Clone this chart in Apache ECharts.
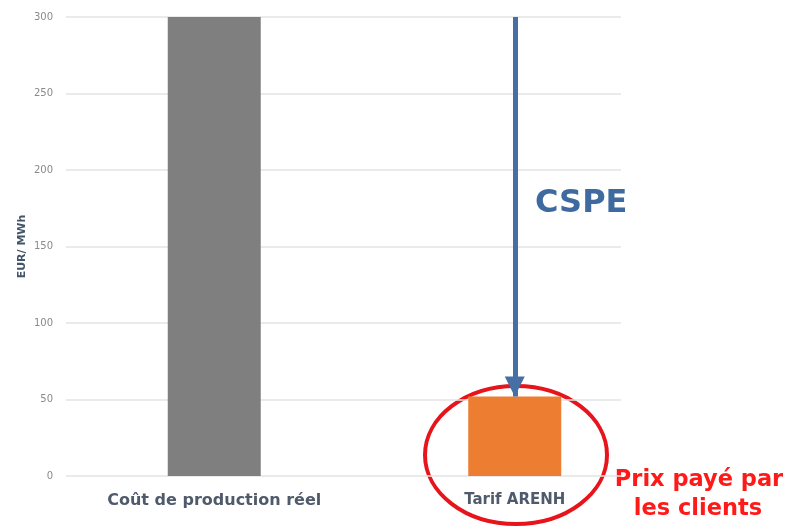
<!DOCTYPE html>
<html>
<head>
<meta charset="utf-8">
<script src="https://cdn.jsdelivr.net/npm/echarts@6/dist/echarts.min.js"></script>
<style>
  html, body { margin: 0; padding: 0; background: #ffffff; }
  #chart { width: 792px; height: 526px; }
</style>
</head>
<body>
<div id="chart"></div>
<script>
// Cost per MWh: real production cost vs. the regulated ARENH tariff
const categories = ['Coût de production réel', 'Tarif ARENH'];
const values = [300, 52];
const barColors = ['#7f7f7f', '#ed7d31'];
const yTicks = { min: 0, max: 300, interval: 50 };
const cspeArrow = { from: 300, to: 52 };

const chart = echarts.init(document.getElementById('chart'));

chart.setOption({
  backgroundColor: '#ffffff',
  animation: false,
  grid: [
    // background grid carrying the value axis and gridlines
    { left: 66, right: 171, top: 17, bottom: 50 },
    // plot grid carrying the bars
    { left: 64, right: 127, top: 17, bottom: 50 }
  ],
  xAxis: [
    { gridIndex: 0, type: 'category', data: categories, show: false },
    {
      gridIndex: 1, type: 'category', data: categories,
      axisLine: { show: false }, axisTick: { show: false },
      axisLabel: {
        margin: 17,
        formatter: (v, i) => i === 0 ? '{a|' + v + '}' : '{b|' + v + '}',
        rich: {
          a: { fontFamily: 'DejaVu Sans', fontWeight: 'bold', fontSize: 16, color: '#4f5a6b' },
          b: { fontFamily: 'DejaVu Sans', fontWeight: 'bold', fontSize: 15, color: '#4f5a6b' }
        }
      }
    }
  ],
  yAxis: [
    {
      gridIndex: 0, type: 'value',
      min: yTicks.min, max: yTicks.max, interval: yTicks.interval,
      name: 'EUR/ MWh', nameLocation: 'middle', nameGap: 38, nameRotate: 90,
      nameMoveOverlap: false,
      nameTextStyle: { fontFamily: 'DejaVu Sans', fontWeight: 'bold', fontSize: 11, color: '#44546a' },
      axisLine: { show: false }, axisTick: { show: false },
      axisLabel: { margin: 13, fontFamily: 'DejaVu Sans', fontSize: 10, color: '#8a8a8a' },
      splitLine: { lineStyle: { color: '#e3e3e3', width: 1.5 } }
    },
    {
      gridIndex: 1, type: 'value',
      min: yTicks.min, max: yTicks.max, interval: yTicks.interval,
      show: false, splitLine: { show: false }
    }
  ],
  series: [
    {
      type: 'bar',
      xAxisIndex: 1, yAxisIndex: 1,
      barWidth: 93,
      data: values.map((v, i) => ({ value: v, itemStyle: { color: barColors[i] } })),
      markLine: {
        silent: true,
        symbol: ['none', 'triangle'],
        symbolSize: [20, 20],
        symbolOffset: [0, [0, 10]],
        lineStyle: { color: '#4670a5', width: 5, type: 'solid' },
        label: { show: false },
        data: [[
          { coord: [categories[1], cspeArrow.from] },
          { coord: [categories[1], cspeArrow.to] }
        ]]
      }
    }
  ],
  graphic: [
    {
      type: 'text', left: 535, top: 188,
      style: { text: 'CSPE', fontFamily: 'DejaVu Sans', fontWeight: 'bold', fontSize: 32, fill: '#3f6a9f' }
    },
    {
      type: 'ellipse',
      shape: { cx: 516, cy: 455, rx: 91, ry: 69 },
      style: { fill: 'none', stroke: '#e8141b', lineWidth: 4 }
    },
    {
      type: 'text', x: 699, y: 480,
      style: {
        text: 'Prix payé par', align: 'center', verticalAlign: 'middle',
        fontFamily: 'DejaVu Sans', fontWeight: 'bold', fontSize: 22.5, fill: '#ff1a1a'
      }
    },
    {
      type: 'text', x: 698, y: 509,
      style: {
        text: 'les clients', align: 'center', verticalAlign: 'middle',
        fontFamily: 'DejaVu Sans', fontWeight: 'bold', fontSize: 22.5, fill: '#ff1a1a'
      }
    }
  ]
});
</script>
</body>
</html>
